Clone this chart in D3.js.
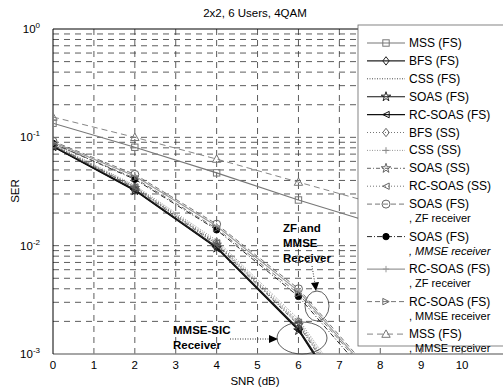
<!DOCTYPE html>
<html>
<head>
<meta charset="utf-8">
<script src="https://cdn.jsdelivr.net/npm/d3@7"></script>
<style>
  body { margin: 0; background: #fff; }
  text { font-family: "Liberation Sans", Arial, sans-serif; }
</style>
</head>
<body>
<div id="chart"></div>
<script>
var svgWidth = 503;
var svgHeight = 389;

// SNR points (dB)
var snr = [0, 2, 4, 6, 8, 10];

// SER values
var mssFS      = [0.135, 0.081, 0.047, 0.0264, 0.0155, 0.0092];
var bfsFS      = [0.083, 0.0330, 0.0098, 0.00172, 1.2e-4, 4e-6];
var cssFS      = [0.085, 0.0345, 0.0104, 0.00190, 1.5e-4, 5e-6];
var soasFS     = [0.082, 0.0322, 0.0095, 0.00165, 1.1e-4, 3e-6];
var rcsoasFS   = [0.082, 0.0325, 0.0096, 0.00168, 1.15e-4, 3.5e-6];
var bfsSS      = [0.086, 0.0352, 0.0108, 0.00200, 1.7e-4, 6e-6];
var cssSS      = [0.087, 0.0360, 0.0112, 0.00210, 1.8e-4, 7e-6];
var soasSS     = [0.084, 0.0340, 0.0102, 0.00185, 1.4e-4, 5e-6];
var rcsoasSS   = [0.085, 0.0348, 0.0106, 0.00195, 1.6e-4, 5.5e-6];
var soasZF     = [0.092, 0.0455, 0.0158, 0.0040, 5.5e-4, 3e-5];
var soasMMSE   = [0.088, 0.0410, 0.0140, 0.0034, 4.6e-4, 2.5e-5];
var rcsoasZF   = [0.090, 0.0440, 0.0152, 0.0038, 5.2e-4, 2.8e-5];
var rcsoasMMSE = [0.087, 0.0420, 0.0144, 0.0036, 5.0e-4, 2.6e-5];
var mssMMSE    = [0.154, 0.100, 0.063, 0.0386, 0.0237, 0.0145];

var xTicks = [0, 1, 2, 3, 4, 5, 6, 7, 8, 9, 10];
var yDecades = [-3, -2, -1, 0];

// legend entries: label lines, data, dash, marker, colour
var series = [
  {label: ["MSS (FS)"], values: mssFS, dash: "", marker: "square", color: "#777"},
  {label: ["BFS (FS)"], values: bfsFS, dash: "", marker: "diamond", color: "#222"},
  {label: ["CSS (FS)"], values: cssFS, dash: "1,1.5", marker: "none", color: "#333"},
  {label: ["SOAS (FS)"], values: soasFS, dash: "", marker: "star", color: "#111"},
  {label: ["RC-SOAS (FS)"], values: rcsoasFS, dash: "", marker: "triLeft", color: "#111"},
  {label: ["BFS (SS)"], values: bfsSS, dash: "1,2", marker: "diamond", color: "#666"},
  {label: ["CSS (SS)"], values: cssSS, dash: "1,1.5", marker: "plus", color: "#888"},
  {label: ["SOAS (SS)"], values: soasSS, dash: "4,2,1,2", marker: "star", color: "#555"},
  {label: ["RC-SOAS (SS)"], values: rcsoasSS, dash: "1,2", marker: "triLeft", color: "#666"},
  {label: ["SOAS (FS)", ", ZF receiver"], values: soasZF, dash: "5,3", marker: "circle", color: "#666"},
  {label: ["SOAS (FS)", ", MMSE receiver"], italic: true, values: soasMMSE, dash: "5,2,1,2", marker: "dot", color: "#111"},
  {label: ["RC-SOAS (FS)", ", ZF receiver"], values: rcsoasZF, dash: "", marker: "plus", color: "#999"},
  {label: ["RC-SOAS (FS)", ", MMSE receiver"], values: rcsoasMMSE, dash: "5,3", marker: "triRight", color: "#666"},
  {label: ["MSS (FS)", ", MMSE receiver"], values: mssMMSE, dash: "6,4", marker: "triUp", color: "#777"}
];

var plotLeft = 53, plotRight = 503, plotTop = 29, plotBottom = 354;

var svg = d3.select("#chart")
  .append("svg")
  .attr("width", svgWidth)
  .attr("height", svgHeight);

var x = d3.scaleLinear().domain([0, 11]).range([plotLeft, plotRight]);
var y = d3.scaleLog().domain([1e-3, 1]).range([plotBottom, plotTop]);

svg.append("defs").append("clipPath").attr("id", "plotclip")
  .append("rect")
  .attr("x", plotLeft).attr("y", plotTop)
  .attr("width", plotRight - plotLeft).attr("height", plotBottom - plotTop);

// grid
var grid = svg.append("g").attr("stroke", "#333").attr("stroke-width", 0.8)
  .attr("stroke-dasharray", "6,5");
xTicks.slice(1).forEach(function(t) {
  grid.append("line")
    .attr("x1", x(t)).attr("x2", x(t))
    .attr("y1", plotTop).attr("y2", plotBottom);
});
var yGrid = [];
for (var e = -3; e < 0; e++) {
  for (var m = 1; m <= 9; m++) {
    var v = m * Math.pow(10, e);
    if (v > 1e-3) yGrid.push(v);
  }
}
yGrid.forEach(function(v) {
  grid.append("line")
    .attr("x1", plotLeft).attr("x2", plotRight)
    .attr("y1", y(v)).attr("y2", y(v));
});

// frame
svg.append("line").attr("x1", plotLeft).attr("x2", plotRight).attr("y1", plotTop).attr("y2", plotTop)
  .attr("stroke", "#000");
svg.append("line").attr("x1", plotLeft).attr("x2", plotRight).attr("y1", plotBottom).attr("y2", plotBottom)
  .attr("stroke", "#888").attr("stroke-width", 1.5);
svg.append("line").attr("x1", plotLeft).attr("x2", plotLeft).attr("y1", plotTop).attr("y2", plotBottom)
  .attr("stroke", "#000");

// markers
function drawMarker(g, type, cx, cy, color) {
  var s = 3.2;
  var p;
  if (type === "none") return;
  if (type === "square") {
    g.append("rect").attr("x", cx - s).attr("y", cy - s)
      .attr("width", 2 * s).attr("height", 2 * s)
      .attr("fill", "none").attr("stroke", color);
  } else if (type === "circle") {
    g.append("circle").attr("cx", cx).attr("cy", cy).attr("r", s + 0.8)
      .attr("fill", "none").attr("stroke", color);
  } else if (type === "dot") {
    g.append("circle").attr("cx", cx).attr("cy", cy).attr("r", s)
      .attr("fill", "#000").attr("stroke", "#000");
  } else if (type === "plus") {
    g.append("path").attr("d", "M" + (cx - s) + "," + cy + "H" + (cx + s) + "M" + cx + "," + (cy - s) + "V" + (cy + s))
      .attr("stroke", color).attr("fill", "none");
  } else if (type === "star") {
    g.append("path").attr("d", d3.symbol().type(d3.symbolStar).size(28)())
      .attr("transform", "translate(" + cx + "," + cy + ")")
      .attr("fill", "none").attr("stroke", color).attr("stroke-width", 0.9);
  } else {
    if (type === "diamond") p = [[0, -s - 1], [s, 0], [0, s + 1], [-s, 0]];
    if (type === "triLeft") p = [[-s, 0], [s, -s], [s, s]];
    if (type === "triRight") p = [[s, 0], [-s, -s], [-s, s]];
    if (type === "triUp") p = [[0, -s - 1], [s + 1, s], [-s - 1, s]];
    g.append("path")
      .attr("d", "M" + p.map(function(q) { return (cx + q[0]) + "," + (cy + q[1]); }).join("L") + "Z")
      .attr("fill", "none").attr("stroke", color);
  }
}

// curves
var plot = svg.append("g").attr("clip-path", "url(#plotclip)");
var line = d3.line()
  .x(function(d, i) { return x(snr[i]); })
  .y(function(d) { return y(d); });

series.forEach(function(s) {
  plot.append("path")
    .attr("d", line(s.values))
    .attr("fill", "none")
    .attr("stroke", s.color)
    .attr("stroke-width", s.dash === "" ? 1.1 : 0.9)
    .attr("stroke-dasharray", s.dash);
  s.values.forEach(function(v, i) {
    if (v >= 1e-3) drawMarker(plot, s.marker, x(snr[i]), y(v), s.color);
  });
});

// x tick labels
svg.append("g").selectAll("text").data(xTicks).enter()
  .append("text")
  .attr("x", function(d) { return x(d); })
  .attr("y", 369)
  .attr("text-anchor", "middle")
  .attr("font-size", 11.5)
  .text(function(d) { return d; });

// y tick labels
var yl = svg.append("g").selectAll("text").data(yDecades).enter()
  .append("text")
  .attr("x", 40)
  .attr("y", function(d) { return y(Math.pow(10, d)) + 4; })
  .attr("text-anchor", "end")
  .attr("font-size", 11.5);
yl.append("tspan").text("10");
yl.append("tspan").attr("dy", -5).attr("font-size", 8).text(function(d) { return d; });

// axis labels and title
svg.append("text")
  .attr("x", 255).attr("y", 385)
  .attr("text-anchor", "middle").attr("font-size", 11.5)
  .text("SNR (dB)");
svg.append("text")
  .attr("transform", "translate(19," + 191 + ") rotate(-90)")
  .attr("text-anchor", "middle").attr("font-size", 11.5)
  .text("SER");
svg.append("text")
  .attr("x", 255).attr("y", 17)
  .attr("text-anchor", "middle").attr("font-size", 11.5)
  .text("2x2, 6 Users, 4QAM");

// annotations
var ann = svg.append("g");
ann.append("ellipse").attr("cx", 317).attr("cy", 306).attr("rx", 12).attr("ry", 15)
  .attr("fill", "none").attr("stroke", "#333").attr("stroke-width", 0.8);
ann.append("ellipse").attr("cx", 302).attr("cy", 338).attr("rx", 25).attr("ry", 16)
  .attr("fill", "none").attr("stroke", "#333").attr("stroke-width", 0.8);
ann.append("line").attr("x1", 312).attr("y1", 266).attr("x2", 315).attr("y2", 284)
  .attr("stroke", "#333").attr("stroke-dasharray", "1,1.5");
ann.append("path").attr("d", "M311,283L319,282L316,291Z").attr("fill", "#000");
ann.append("line").attr("x1", 230).attr("y1", 339).attr("x2", 270).attr("y2", 339)
  .attr("stroke", "#333").attr("stroke-dasharray", "1,1.5");
ann.append("path").attr("d", "M269,335L278,339L269,343Z").attr("fill", "#000");
var t1 = ann.append("text").attr("font-size", 11.5).attr("font-weight", "bold");
["ZF and", "MMSE", "Receiver"].forEach(function(s, i) {
  t1.append("tspan").attr("x", 283).attr("y", 232 + i * 15).text(s);
});
var t2 = ann.append("text").attr("font-size", 11.5).attr("font-weight", "bold");
["MMSE-SIC", "Receiver"].forEach(function(s, i) {
  t2.append("tspan").attr("x", 173).attr("y", 334 + i * 15).text(s);
});

// legend
var lg = svg.append("g");
lg.append("rect").attr("x", 358).attr("y", 25).attr("width", 160).attr("height", 321)
  .attr("fill", "#fff").attr("stroke", "#666").attr("stroke-width", 0.8);
var rowY = 43;
series.forEach(function(s) {
  var g = lg.append("g");
  g.append("line").attr("x1", 367).attr("x2", 405).attr("y1", rowY).attr("y2", rowY)
    .attr("stroke", s.color)
    .attr("stroke-width", s.dash === "" ? 1.1 : 0.9)
    .attr("stroke-dasharray", s.dash);
  drawMarker(g, s.marker, 386, rowY, s.color);
  s.label.forEach(function(t, i) {
    g.append("text").attr("x", 409).attr("y", rowY + 4 + i * 14)
      .attr("font-size", i === 0 ? 12 : 11)
      .attr("font-style", i === 1 && s.italic ? "italic" : "normal")
      .text(t);
  });
  rowY += s.label.length > 1 ? 32.5 : 17.9;
});
</script>
</body>
</html>
